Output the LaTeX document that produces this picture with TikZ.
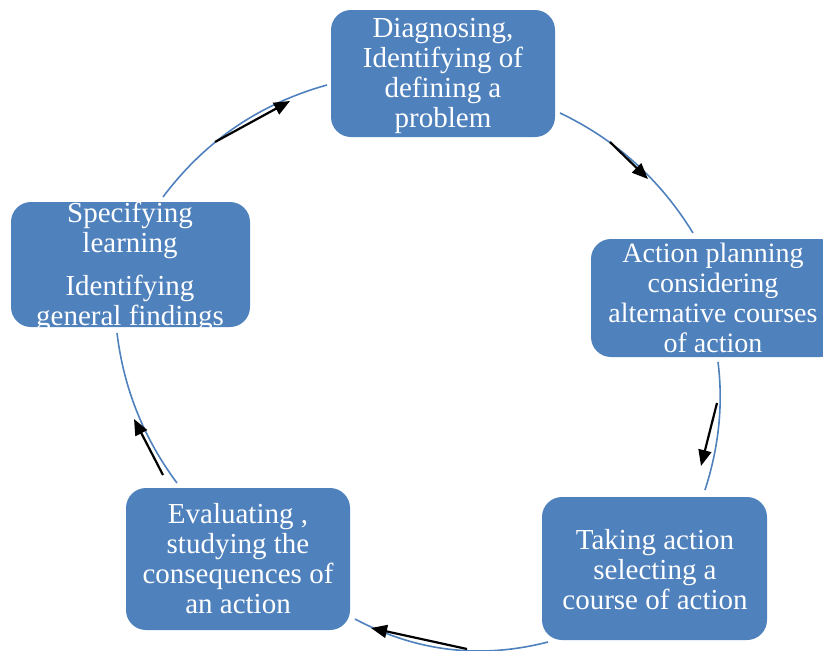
\documentclass[tikz,border=0pt]{standalone}
\usepackage{fontspec}
\setmainfont{Liberation Serif}
\usetikzlibrary{arrows.meta}
\definecolor{boxblue}{HTML}{4F81BD}
\begin{document}
\begin{tikzpicture}[x=1pt,y=-1pt,
  stepbox/.style={fill=boxblue, rounded corners=20pt, draw=none, inner sep=0pt},
  boxtext/.style={text=white, font=\fontsize{29}{30}\selectfont, align=center, inner sep=0pt, anchor=north},
  cyc/.style={draw=boxblue, line width=1.6pt},
  arr/.style={draw=black, line width=2.2pt, -{Triangle[length=16pt,width=13pt]}}]
\useasboundingbox (0,0) rectangle (823,651);
% arc end points and control points
\coordinate (a1s) at (163,197); \coordinate (a1c) at (205,141); \coordinate (a1d) at (259.7,103.7); \coordinate (a1e) at (327,85);
\coordinate (a2s) at (560,113); \coordinate (a2c) at (616,139.7); \coordinate (a2d) at (660.3,179.7); \coordinate (a2e) at (693,233);
\coordinate (a3s) at (718,362); \coordinate (a3c) at (723.3,404); \coordinate (a3d) at (719,446.7); \coordinate (a3e) at (705,490);
\coordinate (a4s) at (355,619); \coordinate (a4c) at (416.3,651.7); \coordinate (a4d) at (480.7,659.3); \coordinate (a4e) at (548,642);
\coordinate (a5s) at (117,333); \coordinate (a5c) at (123.7,388.3); \coordinate (a5d) at (143.7,438.3); \coordinate (a5e) at (177,483);
\draw[cyc] (a1s) .. controls (a1c) and (a1d) .. (a1e);
\draw[cyc] (a2s) .. controls (a2c) and (a2d) .. (a2e);
\draw[cyc] (a3s) .. controls (a3c) and (a3d) .. (a3e);
\draw[cyc] (a4s) .. controls (a4c) and (a4d) .. (a4e);
\draw[cyc] (a5s) .. controls (a5c) and (a5d) .. (a5e);
% boxes
\node[stepbox, minimum width=224pt, minimum height=127pt] (b1) at (443,73.5) {};
\node[stepbox, minimum width=249pt, minimum height=118pt] (b2) at (715.5,298) {};
\node[stepbox, minimum width=225pt, minimum height=143pt] (b3) at (654.5,568.5) {};
\node[stepbox, minimum width=224pt, minimum height=142pt] (b4) at (238,559) {};
\node[stepbox, minimum width=239pt, minimum height=125pt] (b5) at (130.5,264.5) {};
% texts
\node[boxtext] (t1) at (443,16) {\strut Diagnosing,\\Identifying of\\defining a\\problem};
\node[boxtext, font=\fontsize{28}{30}\selectfont] (t2) at (713,241) {\strut Action planning\\considering\\alternative courses\\of action};
\node[boxtext] (t3) at (655,528) {\strut Taking action\\selecting a\\course of action};
\node[boxtext] (t4) at (238,502) {\strut Evaluating ,\\studying the\\consequences of\\an action};
\node[boxtext] (t5) at (130,201) {\strut Specifying\\learning\\[13pt]Identifying\\general findings};
% arrows
\coordinate (p1s) at (215,142); \coordinate (p1e) at (290,101);
\coordinate (p2s) at (610,142); \coordinate (p2e) at (648,179);
\coordinate (p3s) at (717,403); \coordinate (p3e) at (701,466);
\coordinate (p4s) at (467,649); \coordinate (p4e) at (371,628);
\coordinate (p5s) at (163,475); \coordinate (p5e) at (134,419);
\draw[arr] (p1s) -- (p1e);
\draw[arr] (p2s) -- (p2e);
\draw[arr] (p3s) -- (p3e);
\draw[arr] (p4s) -- (p4e);
\draw[arr] (p5s) -- (p5e);
\end{tikzpicture}
\end{document}
